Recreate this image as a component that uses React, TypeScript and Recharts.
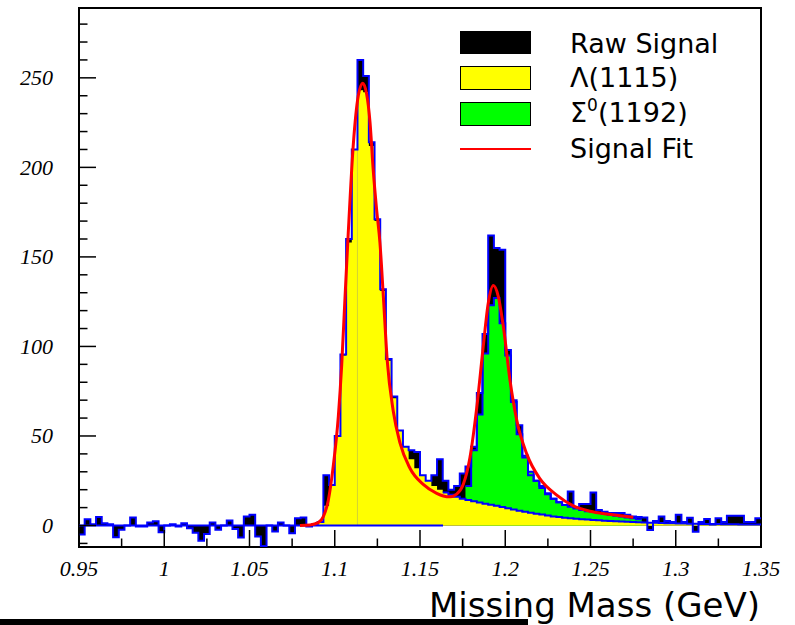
import React from 'react';
import { ComposedChart, Area, Line, XAxis, YAxis, ReferenceArea, ReferenceLine } from 'recharts';

// histogram binning: 120 bins over 0.95 - 1.35 GeV
const X_MIN = 0.95;
const X_MAX = 1.35;
const N_BINS = 120;
const BIN_W = (X_MAX - X_MIN) / N_BINS;

// raw signal counts, one per bin
const RAW = [
  -5, 3.5, 0.7, 4.7, 1.3, 0.7, -6.5, -2.4, 0, 4.5,
  -0.5, -0.5, 1.7, 2.4, -3.8, 0, 0.7, -0.6, 1.3, -1.5,
  -4, -8.5, -4.8, 1.7, -2.4, 0, 2.8, -2, -6.7, 5,
  6, -6.1, -11.4, 0, -3.4, 1.7, 0, -4.3, 4.1, 4.5,
  -0.5, 0.7, 2, 28, 22.6, 50, 95.5, 160, 210, 260,
  251, 214, 171, 132, 93, 72, 53, 44, 42, 41,
  28, 25, 28, 37, 25, 20, 22, 29, 33, 44,
  74, 107, 162, 155, 154, 98, 69, 56, 38, 28,
  25, 22, 18, 15, 13, 11.5, 19, 10, 12, 12,
  18.5, 8.7, 7.7, 7, 7, 7, 6, 5, 4.7, 4.5,
  -2.5, 2.5, 5, 2.5, 2, 6, 2, 4.4, -3.5, 2,
  3.6, 0.5, 4, 2, 5.5, 5.5, 5.5, 2, 2, 4,
];

// Lambda(1115) template, starting at bin 42
const LAMBDA_FIRST = 42;
const LAMBDA = [
  1.5, 11, 22, 50, 95, 158, 210, 243, 242, 212,
  170, 131, 92, 71, 53, 44, 37, 32, 28, 25,
  22, 20, 18.5, 17.2, 16, 15, 14.2, 13.5, 12.8, 12.2,
  11.6, 11, 10.3, 9.6, 9, 8.3, 7.7, 7.1, 6.6, 6.1,
  5.6, 5.1, 4.7, 4.4, 4.1, 3.8, 3.5, 3.3, 3.1, 2.9,
  2.7, 2.5, 2.4, 2.2, 2.1, 2, 1.8, 1.7, 1.6, 1.5,
  1.4, 1.3, 1.2, 1.1, 1.1, 1, 1, 0.9, 0.9, 0.8,
  0.8, 0.7, 0.7, 0.7, 0.6, 0.6, 0.6, 0.5,
];

// Lambda + Sigma0(1192) stacked top, starting at bin 68
const TOTAL_FIRST = 68;
const TOTAL = [
  22, 42, 62, 96, 123, 127, 113, 95, 70, 51,
  39, 30, 25, 21, 17.5, 15, 13, 11.5, 10.5, 9.5,
  8.7, 8, 7.5, 7, 6.5, 6, 5.5, 5, 4.5, 4, 3.5,
];

// blue outline of the Lambda template is drawn from this bin on
const LAMBDA_EDGE_FIRST = 64;

// signal fit curve
const FIT_X = [
  1.0796, 1.0855, 1.0903, 1.0933, 1.0962, 1.0991, 1.1021, 1.1041, 1.106, 1.1079,
  1.1109, 1.1138, 1.1164, 1.1187, 1.1207, 1.1226, 1.1246, 1.1265, 1.1285, 1.1308,
  1.1343, 1.1383, 1.1441, 1.1519, 1.1598, 1.1637, 1.1676, 1.1715, 1.1754, 1.1793,
  1.1833, 1.1871, 1.19, 1.193, 1.1959, 1.1989, 1.2028, 1.2067, 1.2126, 1.2204,
  1.2302, 1.2399, 1.2497, 1.2595, 1.2692, 1.2751,
];
const FIT_Y = [
  0, 0.3, 1.6, 5, 14, 33, 61, 90, 127, 163,
  213, 240, 247, 241, 225, 198, 176, 158, 128, 92,
  64, 46, 32, 23, 18, 16.5, 16, 17.5, 23, 38,
  66, 100, 124, 134, 128, 111, 81, 59, 40, 26,
  17, 11, 8, 6.4, 5.3, 4.6,
];

const X_MAJOR = [0.95, 1.0, 1.05, 1.1, 1.15, 1.2, 1.25, 1.3, 1.35];
const X_LABELS = ['0.95', '1', '1.05', '1.1', '1.15', '1.2', '1.25', '1.3', '1.35'];
const X_MINOR = [0.975, 1.025, 1.075, 1.125, 1.175, 1.225, 1.275, 1.325];

const Y_MAJOR = [0, 50, 100, 150, 200, 250];
const Y_LABELS = ['0', '50', '100', '150', '200', '250'];
const Y_MINOR = [-10, 10, 20, 30, 40, 60, 70, 80, 90, 110, 120, 130, 140, 160, 170, 180, 190, 210, 220, 230, 240, 260, 270, 280];

const Y_MIN = -12;
const Y_MAX = 289;

const pick = (arr: number[], first: number, i: number) => {
  const k = i - first;
  if (k < 0 || k > arr.length) return undefined;
  return arr[Math.min(k, arr.length - 1)];
};

// one row per bin edge, last edge repeats the last bin so the step closes
const histData = Array.from({ length: N_BINS + 1 }, (_, i) => ({
  x: X_MIN + i * BIN_W,
  raw: RAW[Math.min(i, N_BINS - 1)],
  lam: pick(LAMBDA, LAMBDA_FIRST, i),
  tot: pick(TOTAL, TOTAL_FIRST, i),
  lamEdge: i >= LAMBDA_EDGE_FIRST ? pick(LAMBDA, LAMBDA_FIRST, i) : undefined,
}));

const fitData = FIT_X.map((x, i) => ({ x, fit: FIT_Y[i] }));

const tickFont = { fontFamily: '"Liberation Serif", "Times New Roman", serif', fontStyle: 'italic', fontSize: 22 };

const near = (a: number, b: number) => Math.abs(a - b) < 1e-6;

const XTick = (props: any) => {
  const { x, y, payload } = props;
  const idx = X_MAJOR.findIndex(v => near(v, payload.value));
  const major = idx >= 0;
  return (
    <g>
      <line x1={x} x2={x} y1={y} y2={y - (major ? 17 : 8.5)} stroke="#000" strokeWidth={1.5} />
      {major && (
        <text x={x} y={y + 29} textAnchor="middle" fill="#000" style={tickFont}>
          {X_LABELS[idx]}
        </text>
      )}
    </g>
  );
};

const YTick = (props: any) => {
  const { x, y, payload } = props;
  const idx = Y_MAJOR.findIndex(v => near(v, payload.value));
  const major = idx >= 0;
  return (
    <g>
      <line x1={x} x2={x + (major ? 17 : 8.5)} y1={y} y2={y} stroke="#000" strokeWidth={1.5} />
      {major && (
        <text x={x - 26} y={y + 7.5} textAnchor="end" fill="#000" style={tickFont}>
          {Y_LABELS[idx]}
        </text>
      )}
    </g>
  );
};

const sans = '"DejaVu Sans", Verdana, sans-serif';

const App: React.FC = () => {
  return (
    <div style={{ position: 'absolute', left: 0, top: 0, width: 795, height: 625, background: '#fff' }}>
      <ComposedChart width={795} height={625} data={histData} margin={{ top: 8, right: 34, bottom: 0, left: 0 }}>
        <XAxis
          dataKey="x"
          type="number"
          domain={[X_MIN, X_MAX]}
          allowDataOverflow
          ticks={[...X_MAJOR, ...X_MINOR].sort((a, b) => a - b)}
          interval={0}
          tick={<XTick />}
          tickLine={false}
          axisLine={false}
          tickSize={0}
          tickMargin={0}
          height={78}
        />
        <YAxis
          type="number"
          domain={[Y_MIN, Y_MAX]}
          allowDataOverflow
          ticks={[...Y_MAJOR, ...Y_MINOR].sort((a, b) => a - b)}
          interval={0}
          tick={<YTick />}
          tickLine={false}
          axisLine={false}
          tickSize={0}
          tickMargin={0}
          width={79}
        />
        <Area type="stepAfter" dataKey="raw" baseValue={0} fill="#000" fillOpacity={1} stroke="none" isAnimationActive={false} />
        <Area type="stepAfter" dataKey="tot" baseValue={0} fill="#00ff00" fillOpacity={1} stroke="#0000ff" strokeWidth={2} isAnimationActive={false} />
        <Area type="stepAfter" dataKey="lam" baseValue={0} fill="#ffff00" fillOpacity={1} stroke="none" isAnimationActive={false} />
        <ReferenceLine segment={[{ x: 1.1133, y: 0 }, { x: 1.1133, y: 238 }]} stroke="#d2d236" strokeWidth={1} />
        <Line type="stepAfter" dataKey="lamEdge" stroke="#0000ff" strokeWidth={2} dot={false} activeDot={false} isAnimationActive={false} />
        <Line type="stepAfter" dataKey="raw" stroke="#0000ff" strokeWidth={2} dot={false} activeDot={false} isAnimationActive={false} />
        <ReferenceLine segment={[{ x: X_MIN, y: 0 }, { x: 1.1635, y: 0 }]} stroke="#0000ff" strokeWidth={2} />
        <Line data={fitData} type="monotone" dataKey="fit" stroke="#ff0000" strokeWidth={3} dot={false} activeDot={false} isAnimationActive={false} />
        <ReferenceArea x1={X_MIN} x2={X_MAX} y1={Y_MIN} y2={Y_MAX} fill="none" fillOpacity={0} stroke="#000" strokeWidth={2} ifOverflow="visible" />
      </ComposedChart>
      <svg width={795} height={625} style={{ position: 'absolute', left: 0, top: 0, pointerEvents: 'none' }}>
        <rect x={460} y={31} width={71} height={23} fill="#000" />
        <rect x={460.5} y={66.5} width={70} height={23} fill="#ffff00" stroke="#000" strokeWidth={1} />
        <rect x={460.5} y={102.5} width={70} height={23} fill="#00ff00" stroke="#000" strokeWidth={1} />
        <line x1={460} x2={531} y1={149} y2={149} stroke="#ff0000" strokeWidth={2} />
        <g fontFamily={sans} fontSize={27} fill="#000">
          <text x={570} y={53}>Raw Signal</text>
          <text x={570} y={87}>Λ(1115)</text>
          <text x={570} y={122}>
            Σ<tspan dy={-11} fontSize={17}>0</tspan>
            <tspan dy={11}>(1192)</tspan>
          </text>
          <text x={570} y={158}>Signal Fit</text>
        </g>
        <text x={760} y={617} textAnchor="end" fontFamily={sans} fontSize={34} fill="#000">
          Missing Mass (GeV)
        </text>
        <rect x={0} y={619} width={528} height={6} fill="#000" />
      </svg>
    </div>
  );
};

export default App;
